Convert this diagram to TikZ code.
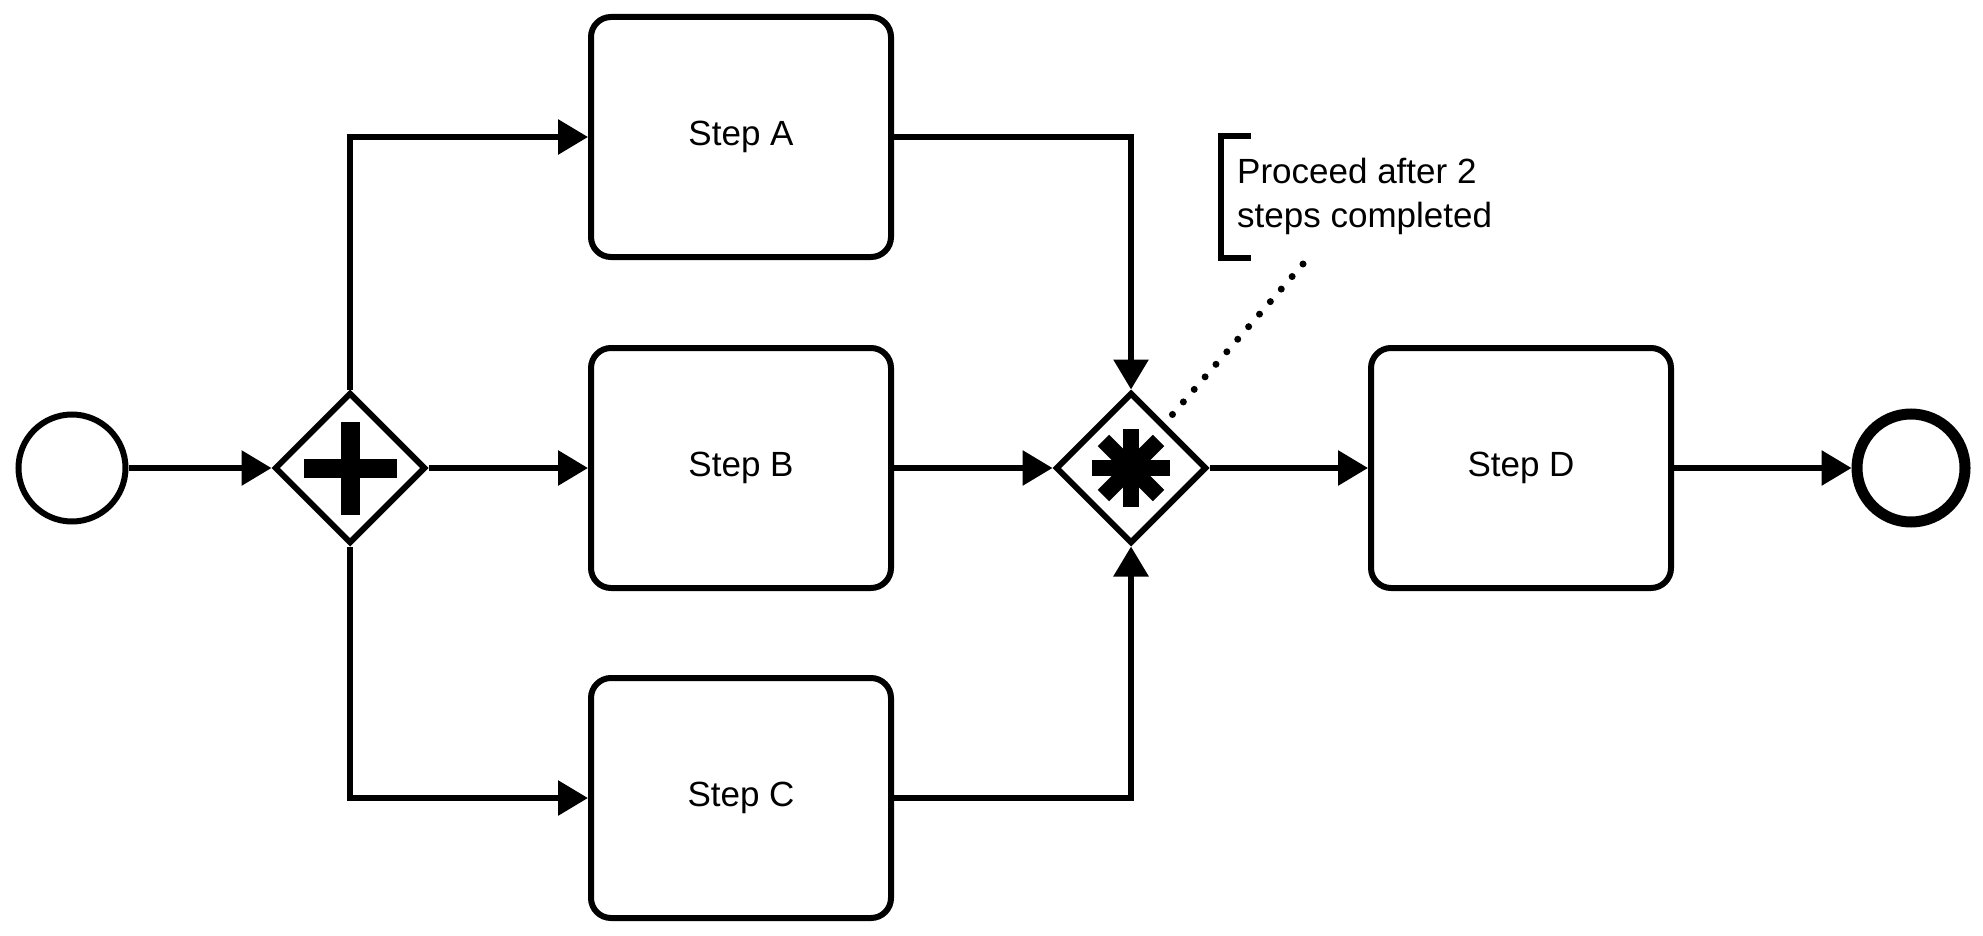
\documentclass[tikz,border=0pt]{standalone}
\usepackage{fontspec}
\setmainfont{Liberation Sans}
\usetikzlibrary{shapes.geometric,arrows.meta,calc}
\begin{document}
\begin{tikzpicture}[x=1pt,y=-1pt,
  font=\fontsize{35pt}{44pt}\selectfont,
  task/.style={draw, rounded corners=20pt, minimum width=300pt, minimum height=240pt, inner sep=0pt, line width=6pt},
  startev/.style={draw, circle, minimum size=107pt, inner sep=0pt, line width=6pt},
  endev/.style={draw, circle, minimum size=108pt, inner sep=0pt, line width=11pt},
  gw/.style={draw, diamond, minimum width=151pt, minimum height=151pt, aspect=1, inner sep=0pt, line width=6pt, line join=miter},
  flow/.style={line width=6pt, -{Triangle[length=30pt,width=34pt]}},
  assoc/.style={line width=7pt, line cap=round, dash pattern=on 0pt off 16.6pt},
  bracket/.style={line width=6pt, line join=miter},
  marker/.style={line width=16pt}]
\useasboundingbox (0,0) rectangle (1983,936);
\node[startev] (start) at (72,468) {};
\node[gw] (g1) at (350,468) {};
\node[task] (A) at (741,137) {Step A};
\node[task] (B) at (741,468) {Step B};
\node[task] (C) at (741,798) {Step C};
\node[gw] (g2) at (1131,468) {};
\node[task] (D) at (1521,468) {Step D};
\node[endev] (end) at (1911,468) {};
\node[anchor=base west, align=left, inner sep=0pt] (note) at (1237,228) {Proceed after 2\\steps completed};
% gateway markers
\fill ([xshift=-46.5pt,yshift=-9.5pt]g1.center) rectangle ([xshift=46.5pt,yshift=9.5pt]g1.center);
\fill ([xshift=-9.5pt,yshift=-46.5pt]g1.center) rectangle ([xshift=9.5pt,yshift=46.5pt]g1.center);
\foreach \a in {0,45,90,135}
  \draw[marker] ($(g2.center)+(\a:39pt)$) -- ($(g2.center)+(\a+180:39pt)$);
% flows
\draw[flow] (start) -- (g1);
\draw[flow] (g1.north) |- (A.west);
\draw[flow] (g1) -- (B);
\draw[flow] (g1.south) |- (C.west);
\draw[flow] (A.east) -| (g2.north);
\draw[flow] (B) -- (g2);
\draw[flow] (C.east) -| (g2.south);
\draw[flow] (g2) -- (D);
\draw[flow] (D) -- (end);
% annotation
\coordinate (bt) at (1251,136);
\coordinate (bb) at (1251,258);
\draw[bracket] (bt) -| (1221,258) -- (bb);
\coordinate (na) at (1303,264);
\coordinate (ga) at (1172,415);
\draw[assoc] (na) -- (ga);
\end{tikzpicture}
\end{document}
